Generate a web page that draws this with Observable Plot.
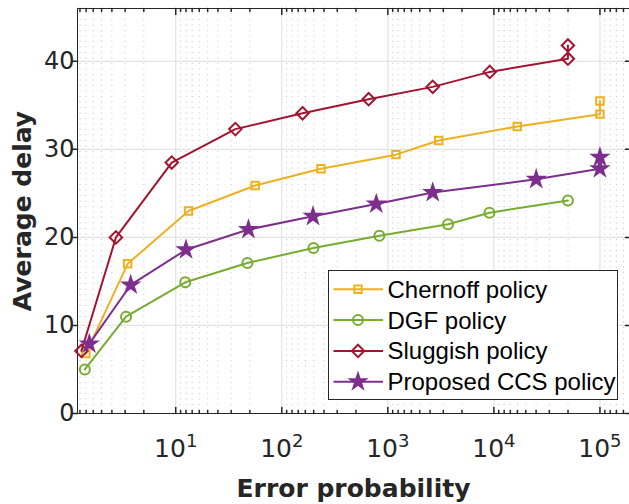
<!DOCTYPE html>
<html><head><meta charset="utf-8">
<script src="https://cdn.jsdelivr.net/npm/d3@7"></script>
<script src="https://cdn.jsdelivr.net/npm/@observablehq/plot@0.6"></script>
<style>
body{margin:0;background:#fff}
#chart{position:relative;width:629px;height:504px;overflow:hidden}
#legend{position:absolute;left:328px;top:270px}
</style>
</head><body><div id="chart"></div>
<script>
// ---- data ----
const seriesNames = ["Chernoff policy", "DGF policy", "Sluggish policy", "Proposed CCS policy"];
const chernoffX = [1.42, 3.52, 13.2, 56.1, 234, 1194, 3020, 16600, 100000, 100000];
const chernoffY = [6.8, 17.0, 23.0, 25.9, 27.8, 29.4, 31.0, 32.6, 34.0, 35.5];
const dgfX = [1.39, 3.40, 12.3, 47.4, 199, 832, 3700, 9080, 49900];
const dgfY = [5.0, 11.0, 14.9, 17.1, 18.8, 20.2, 21.5, 22.8, 24.2];
const sluggishX = [1.29, 2.73, 9.17, 36.5, 157, 659, 2650, 9140, 49900, 49900];
const sluggishY = [7.1, 20.0, 28.5, 32.3, 34.1, 35.7, 37.1, 38.8, 40.3, 41.8];
const ccsX = [1.53, 3.76, 12.5, 48.5, 197, 778, 2650, 25060, 100000, 100000];
const ccsY = [7.9, 14.6, 18.6, 20.9, 22.4, 23.8, 25.1, 26.6, 27.8, 29.1];
const xTicks = [10, 100, 1000, 10000, 100000];
const xTickExponents = ["1", "2", "3", "4", "5"];
const yTicks = [0, 10, 20, 30, 40];
const xTitle = "Error probability";
const yTitle = "Average delay";

// ---- layout / style ----
const W = 629, H = 504, mL = 77, mR = 0, mT = 8, mB = 91;
const xDomain = [1.185, 1.9e5], yDomain = [0, 46];
const ink = "#262626";
const tickFont = "DejaVu Sans";

const series = [
  {name: seriesNames[0], x: chernoffX, y: chernoffY, color: "#EDB120", symbol: "square", r: 4.2, fill: "none", sym: d3.symbolSquare},
  {name: seriesNames[1], x: dgfX, y: dgfY, color: "#77AC30", symbol: "circle", r: 5, fill: "none", sym: d3.symbolCircle},
  {name: seriesNames[2], x: sluggishX, y: sluggishY, color: "#A2142F", symbol: "diamond2", r: 5.6, fill: "none", sym: d3.symbolDiamond2},
  {name: seriesNames[3], x: ccsX, y: ccsY, color: "#7E2F8E", symbol: "star", r: 4.8, fill: "#7E2F8E", sym: d3.symbolStar}
];
series.forEach(s => s.rows = s.x.map((x, i) => ({x, y: s.y[i]})));

// minor x ticks (reversed within each decade as in the reference)
const minorX = [];
for (let e = 0; e <= 5; e++) for (let k = 2; k <= 9; k++) {
  const v = 10 ** (e + 1) / k;
  if (v > xDomain[0] && v < xDomain[1]) minorX.push(v);
}
const tickShape = {draw(c, l) { c.moveTo(0, 0); c.lineTo(0, -l); }};

const marks = [
  Plot.ruleX(minorX, {x: d => d, stroke: "#c4c4c4", strokeDasharray: "1,4.5"}),
  Plot.ruleX(xTicks, {x: d => d, stroke: "#e2e2e2", strokeWidth: 1.2}),
  Plot.ruleY(yTicks.filter(v => v > 0), {y: d => d, stroke: "#e2e2e2", strokeWidth: 1.2}),
  // borders
  Plot.ruleX([xDomain[0]], {x: d => d, stroke: ink}),
  Plot.ruleY([yDomain[0]], {y: d => d, stroke: ink}),
  Plot.ruleY([yDomain[1]], {y: d => d, stroke: ink}),
  // ticks
  Plot.vector(xTicks, {x: d => d, frameAnchor: "bottom", length: 6, rotate: 0, anchor: "start", shape: tickShape, stroke: ink}),
  Plot.vector(minorX, {x: d => d, frameAnchor: "bottom", length: 3, rotate: 0, anchor: "start", shape: tickShape, stroke: ink}),
  Plot.vector(xTicks, {x: d => d, frameAnchor: "top", length: 6, rotate: 180, anchor: "start", shape: tickShape, stroke: ink}),
  Plot.vector(minorX, {x: d => d, frameAnchor: "top", length: 3, rotate: 180, anchor: "start", shape: tickShape, stroke: ink}),
  Plot.vector(yTicks, {y: d => d, frameAnchor: "left", length: 5, rotate: 270, anchor: "start", shape: tickShape, stroke: ink}),
  Plot.vector(yTicks, {y: d => d, frameAnchor: "right", length: 4, rotate: 270, anchor: "start", shape: tickShape, stroke: ink}),
  Plot.axisY({anchor: "left", ticks: yTicks, tickSize: 0, tickPadding: 3, label: null,
    fontSize: 24, fontFamily: tickFont, fill: ink}),
  Plot.axisX({anchor: "bottom", ticks: xTicks, tickSize: 0, tickPadding: 26, label: null,
    tickFormat: d => "10^" + xTickExponents[xTicks.indexOf(d)], fontSize: 25, fontFamily: tickFont, fill: ink}),
  Plot.text([yTitle], {text: d => d, frameAnchor: "left", dx: -55, rotate: -90, textAnchor: "middle", lineAnchor: "middle",
    fontSize: 25, fontWeight: "bold", fontFamily: tickFont, fill: ink}),
  Plot.text([xTitle], {text: d => d, frameAnchor: "bottom", dy: 75, textAnchor: "middle", lineAnchor: "middle",
    fontSize: 25, fontWeight: "bold", fontFamily: tickFont, fill: ink})
];
series.forEach(s => {
  marks.push(Plot.line(s.rows, {x: "x", y: "y", stroke: s.color, strokeWidth: 2}));
  marks.push(Plot.dot(s.rows, {x: "x", y: "y", symbol: s.symbol, r: s.r, stroke: s.color, fill: s.fill, strokeWidth: 2}));
});

const chart = Plot.plot({
  width: W, height: H, marginLeft: mL, marginRight: mR, marginTop: mT, marginBottom: mB,
  x: {type: "log", domain: xDomain},
  y: {domain: yDomain},
  style: {background: "#fff", overflow: "visible"},
  marks
});
const holder = document.getElementById("chart");
holder.appendChild(chart);

// superscripts for x tick labels
d3.select(chart).selectAll('g[aria-label="x-axis tick label"] text').each(function () {
  const t = d3.select(this);
  const parts = t.text().split("^");
  t.text(null);
  t.append("tspan").text(parts[0]);
  t.append("tspan").attr("dy", -10).attr("font-size", 18).text(parts[1]);
});

// legend (separate overlay svg)
const lgW = 290, lgH = 130, rowY0 = 19.3, rowStep = 30.8;
const lg = d3.create("svg").attr("id", "legend").attr("width", lgW).attr("height", lgH)
  .attr("viewBox", `0 0 ${lgW} ${lgH}`);
lg.append("rect").attr("x", 0.5).attr("y", 0.5).attr("width", lgW - 1).attr("height", lgH - 1)
  .attr("fill", "#fff").attr("stroke", ink).attr("stroke-width", 1);
series.forEach((s, i) => {
  const cy = rowY0 + i * rowStep;
  lg.append("line").attr("x1", 5.5).attr("x2", 55).attr("y1", cy).attr("y2", cy)
    .attr("stroke", s.color).attr("stroke-width", 2);
  lg.append("path").attr("d", d3.symbol(s.sym, Math.PI * s.r * s.r)())
    .attr("transform", `translate(30,${cy})`)
    .attr("fill", s.fill).attr("stroke", s.color).attr("stroke-width", 2);
  lg.append("text").attr("x", 59.5).attr("y", cy).attr("dy", "0.35em").attr("text-anchor", "start")
    .attr("font-family", "Liberation Sans, Arial, sans-serif").attr("font-size", 24).attr("fill", "#000")
    .text(s.name);
});
holder.appendChild(lg.node());
</script>
</body></html>
